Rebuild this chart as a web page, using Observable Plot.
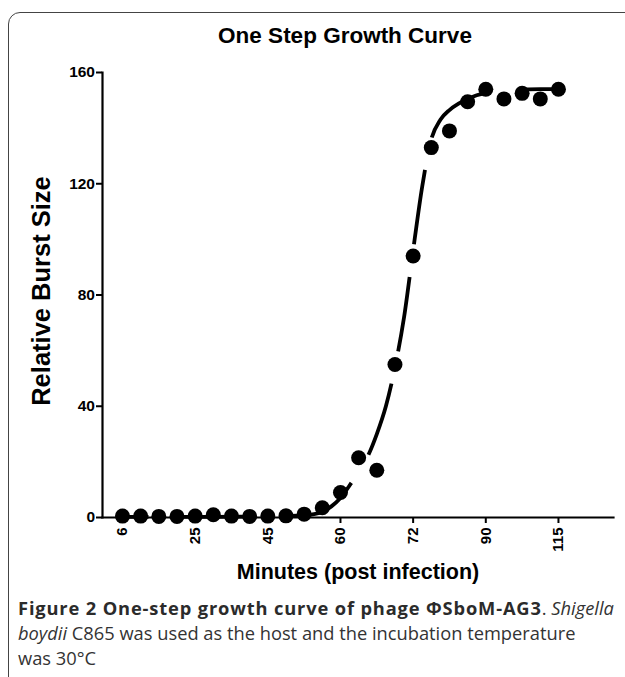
<!DOCTYPE html>
<html>
<head>
<meta charset="utf-8">
<script src="https://cdn.jsdelivr.net/npm/d3@7"></script>
<script src="https://cdn.jsdelivr.net/npm/@observablehq/plot@0.6"></script>
<style>
  html, body { margin: 0; padding: 0; background: #fff; }
  #wrap { position: relative; width: 625px; height: 677px; overflow: hidden; }
  #frame { position: absolute; left: 8px; top: 12px; width: 720px; height: 720px;
           border: 1.5px solid #444; border-radius: 12px; }
  #chart { position: absolute; left: 0; top: 0; }
  #cap { position: absolute; left: 18px; top: 595px; font-family: "Open Sans", sans-serif;
         font-size: 18.3px; line-height: 25px; color: #333; white-space: nowrap; }
  #cap b { font-weight: 700; color: #2b2b2b; letter-spacing: 0.85px; }
</style>
</head>
<body>
<div id="wrap">
  <div id="frame"></div>
  <div id="chart"></div>
  <div id="cap"><b>Figure 2 One-step growth curve of phage ΦSboM-AG3</b>. <i>Shigella</i><br><i>boydii</i> C865 was used as the host and the incubation temperature<br>was 30°C</div>
</div>
<script>
// Sampling order (time-point index along the x axis)
const timeIndex = d3.range(25);
// Relative burst size measured at each time point
const burstSize = [0.5, 0.5, 0.4, 0.4, 0.5, 1.0, 0.5, 0.4, 0.5, 0.6, 1.2,
                   3.5, 9, 21.5, 17, 55, 94, 133, 139, 149.5, 154, 150.5, 152.5, 150.5, 154];
// Fitted sigmoid curve (index, value)
const fitIndex = [0, 2, 4, 6, 8, 10, 11, 11.5, 12, 12.5, 13, 13.5, 14, 14.5, 15, 15.5, 16, 16.5,
                  17, 17.5, 18, 18.5, 19, 19.5, 20, 20.5, 21, 22, 23, 24];
const fitValue = [0.2, 0.2, 0.2, 0.3, 0.4, 0.8, 2, 4, 7, 11.5, 16.5, 22, 30, 40, 54, 72, 96, 119,
                  136, 143, 146.5, 148.8, 150.5, 151.8, 152.7, 153.3, 153.7, 153.9, 154, 154];
// Tick positions (indices) and their minute labels
const tickIndex = [0, 4, 8, 12, 16, 20, 24];
const tickLabels = ["6", "25", "45", "60", "72", "90", "115"];
const yTicks = [0, 40, 80, 120, 160];

const points = timeIndex.map((t, i) => ({t, v: burstSize[i]}));
const fit = fitIndex.map((t, i) => ({t, v: fitValue[i]}));

const font = "'Liberation Sans', Arial, sans-serif";
const dash = [75, 33];

function build(offset) {
  return Plot.plot({
    width: 625,
    height: 600,
    marginLeft: 102,
    marginRight: 12,
    marginTop: 72,
    marginBottom: 83,
    style: {fontFamily: font, background: "transparent", color: "#000"},
    x: {domain: [-1.1, 27.03]},
    y: {domain: [0, 160]},
    marks: [
      Plot.frame({anchor: "left", stroke: "#000", strokeWidth: 2.2, strokeOpacity: 1}),
      Plot.frame({anchor: "bottom", stroke: "#000", strokeWidth: 2.2, strokeOpacity: 1}),
      Plot.axisY({ticks: yTicks, tickSize: 6, tickPadding: 1.5, fontSize: 15.5, fontWeight: "bold",
                  strokeWidth: 2, label: null}),
      Plot.axisX({ticks: tickIndex, tickFormat: (d) => tickLabels[tickIndex.indexOf(d)],
                  tickSize: 6, tickPadding: 4, tickRotate: -90, fontSize: 15, fontWeight: "bold",
                  strokeWidth: 2, label: null}),
      Plot.line(fit, {x: "t", y: "v", curve: "monotone-x", stroke: "#000", strokeWidth: 3.8,
                      strokeDasharray: dash.join(","), strokeDashoffset: offset, strokeLinecap: "butt",
                      className: "fitline"}),
      Plot.dot(points, {x: "t", y: "v", r: 7.5, fill: "#000", stroke: "none"}),
      Plot.text(["One Step Growth Curve"], {frameAnchor: "top", lineAnchor: "middle", textAnchor: "middle",
                  dy: -37, dx: -13, fontSize: 22.5, fontWeight: "bold", fill: "#000"}),
      Plot.text(["Relative Burst Size"], {frameAnchor: "left", textAnchor: "middle", lineAnchor: "middle",
                  dx: -61, dy: -4, rotate: -90, fontSize: 25.5, fontWeight: "bold", fill: "#000"}),
      Plot.text(["Minutes (post infection)"], {frameAnchor: "bottom", lineAnchor: "middle", textAnchor: "middle",
                  dy: 55, fontSize: 21.5, fontWeight: "bold", fill: "#000"})
    ]
  });
}

// First pass: find the arc length of the fitted curve at the data point (index 15),
// so that a gap of the dash pattern is centred there, as in the original.
const probe = build(0);
document.getElementById("chart").appendChild(probe);
let offset = 0;
const path = probe.querySelector(".fitline path");
if (path) {
  const xs = probe.scale("x"), target = xs.apply(15);
  const total = path.getTotalLength();
  let best = 0, bestD = Infinity;
  for (let s = 0; s <= total; s += 0.5) {
    const p = path.getPointAtLength(s);
    const d = Math.abs(p.x - target);
    if (d < bestD) { bestD = d; best = s; }
  }
  const period = dash[0] + dash[1];
  const gapCenter = dash[0] + dash[1] / 2;
  offset = ((gapCenter - best) % period + period) % period;
}
probe.remove();
document.getElementById("chart").appendChild(build(offset));
</script>
</body>
</html>
